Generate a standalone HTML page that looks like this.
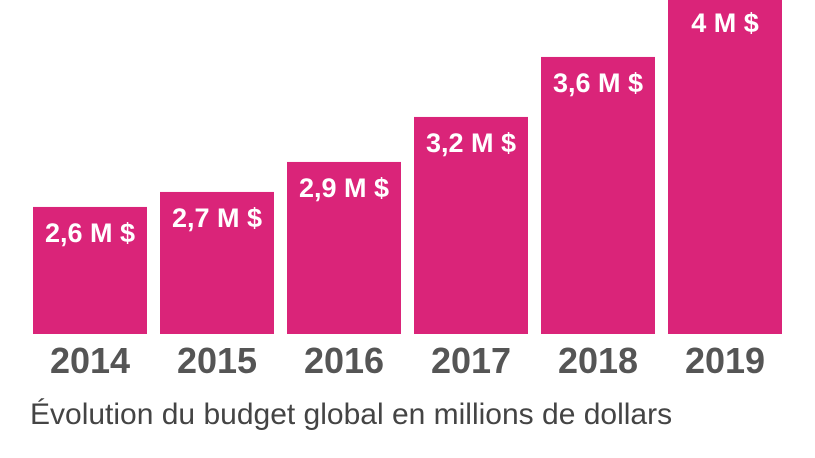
<!DOCTYPE html>
<html><head><meta charset="utf-8"><style>
body{margin:0;background:#fff;width:815px;height:458px;overflow:hidden}
svg{display:block}
.lbl{font-family:"Liberation Sans Narrow","Liberation Sans",sans-serif;font-weight:bold;fill:#fff;font-size:27px}
.yr{font-family:"Liberation Sans Narrow","Liberation Sans",sans-serif;font-weight:bold;fill:#555;font-size:36px}
.cap{font-family:"Liberation Sans Narrow","Liberation Sans",sans-serif;fill:#444;font-size:30px}
</style></head><body>
<svg id="chart" width="815" height="458">
<text class="cap" x="30" y="424">Évolution du budget global en millions de dollars</text>
</svg>
<script>
const years=["2014","2015","2016","2017","2018","2019"];
const values=[2.6,2.7,2.9,3.2,3.6,4.0];
const labels=["2,6 M $","2,7 M $","2,9 M $","3,2 M $","3,6 M $","4 M $"];
const svg=document.getElementById('chart');
const NS="http://www.w3.org/2000/svg";
const baseY=334, v0=1.753, pxPer=150;
function yScale(v){return baseY-(v-v0)*pxPer;}
function xScale(i){return 33+i*127;}
const bw=114;
years.forEach((yr,i)=>{
  const top=yScale(values[i]);
  const r=document.createElementNS(NS,'rect');
  r.setAttribute('x',xScale(i));r.setAttribute('y',top);
  r.setAttribute('width',bw);r.setAttribute('height',baseY-top);
  r.setAttribute('fill','#da2479');
  
  
  svg.appendChild(r);
  const t=document.createElementNS(NS,'text');
  t.setAttribute('class','lbl');t.setAttribute('x',xScale(i)+bw/2);t.setAttribute('y',top+35);
  t.setAttribute('text-anchor','middle');t.textContent=labels[i];
  
  
  svg.appendChild(t);
  const y=document.createElementNS(NS,'text');
  y.setAttribute('class','yr');y.setAttribute('x',xScale(i)+bw/2);y.setAttribute('y',373);
  y.setAttribute('text-anchor','middle');y.textContent=yr;
  
  
  svg.appendChild(y);
});
</script>
</body></html>
